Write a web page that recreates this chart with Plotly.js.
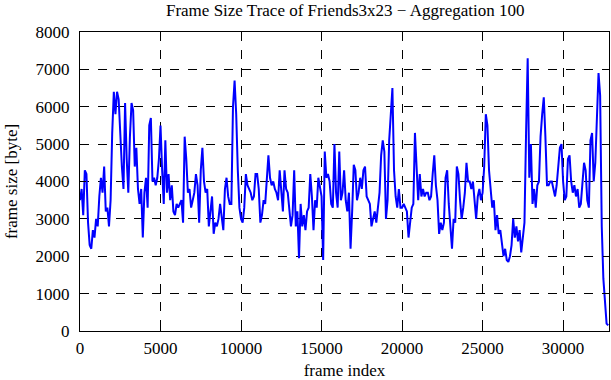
<!DOCTYPE html>
<html><head><meta charset="utf-8">
<script src="https://cdn.plot.ly/plotly-3.0.1.min.js"></script>
<style>html,body{margin:0;padding:0;background:#fff}#chart{width:611px;height:380px}</style>
</head><body><div id="chart"></div>
<script>
const chartTitle = "Frame Size Trace of Friends3x23 \u2212 Aggregation 100";
const xLabel = "frame index";
const yLabel = "frame size [byte]";
const aggregation = 100;
const xTicks = [0, 5000, 10000, 15000, 20000, 25000, 30000];
const yTicks = [0, 1000, 2000, 3000, 4000, 5000, 6000, 7000, 8000];
const frameSizes = [
 3500,3800,3100,4300,4200,2900,2300,2200,2700,2500,
 3000,2800,3600,4100,3700,4400,3200,3300,2800,3500,
 5300,6400,5800,6400,6200,5200,4400,3800,6100,4600,
 3700,5200,6100,5900,4400,4900,3800,3400,3800,2500,
 3700,4100,3300,5500,5700,4000,4100,3900,4100,4600,
 5500,4300,3400,5100,3700,4200,3500,3900,3200,3100,
 3400,3300,3400,3500,2900,5200,4600,3700,3800,3300,
 3500,3700,4200,3900,2900,4300,4900,4000,3700,3800,
 2800,3300,3600,2600,2900,2800,3000,3400,3100,2700,
 3800,4100,3600,3400,3400,6000,6700,5800,4300,3300,
 3000,2900,3300,4200,3900,3800,3700,3500,3600,4200,
 4200,3800,2900,3100,3500,3400,4200,4700,4100,3900,
 4000,3800,3700,3500,4300,3800,3200,4300,3800,3700,
 3200,2800,3100,4300,2800,3200,1950,3400,2800,3100,
 2700,3200,3300,4200,3600,2700,3500,3300,4100,3800,
 3600,1900,4800,4100,4200,4000,3400,3300,5000,3700,
 3300,4800,3500,3700,4300,3500,3200,3700,2200,3200,
 4450,4300,3500,3700,4100,3800,4300,4400,3600,3500,
 3400,2800,3000,3200,2900,3400,3700,4700,5100,4800,
 3000,3500,5100,5800,6500,4300,3600,3300,3800,3300,
 3300,3400,3300,3200,2500,3000,3300,3400,5300,4400,
 3500,4200,3600,3800,3600,3700,3700,3500,3600,4200,
 4700,3900,3500,2600,2900,2700,2900,4100,4300,3400,
 2900,2200,3000,2900,4400,4200,3500,3000,3300,3700,
 4500,4000,4000,3800,4000,3400,3000,3600,3800,3500,
 3700,4400,5800,5500,4300,3800,3300,3500,2700,3100,
 2600,2700,2300,2000,2200,1900,1850,2000,2300,3000,
 2500,2800,2400,2700,2100,2600,2900,5300,7300,4100,
 5000,3400,3800,3300,3900,4000,5200,5800,6250,5200,
 3900,3900,4000,4000,3800,3600,3900,4500,4900,5000,
 4000,3500,3600,4600,4700,4000,3700,3900,3600,3800,
 3300,3400,4100,4500,4300,3500,3300,5100,5300,4000,
 4500,5800,6900,6300,2800,1400,900,200,150
];
const frameIndex = frameSizes.map((_, i) => i * aggregation);

const font = {family: "Liberation Serif, Times New Roman, serif", size: 17, color: "#000"};
const axisCommon = {
  showline: true, linecolor: "#000", linewidth: 1, mirror: "allticks",
  ticks: "inside", ticklen: 6, tickcolor: "#000", tickwidth: 1,
  showgrid: true, gridcolor: "#000", gridwidth: 1, griddash: "dash",
  zeroline: false, tickfont: font
};
Plotly.newPlot("chart", [{
  x: frameIndex, y: frameSizes, type: "scatter", mode: "lines",
  line: {color: "#0000ff", width: 2}, hoverinfo: "skip"
}], {
  width: 611, height: 380,
  margin: {l: 80, r: 2, t: 32, b: 49},
  paper_bgcolor: "#fff", plot_bgcolor: "#fff",
  font: font, showlegend: false,
  title: {text: chartTitle, font: {family: font.family, size: 17, color: "#000"}, x: 0.565, xanchor: "center", y: 0.99, yanchor: "top"},
  xaxis: Object.assign({}, axisCommon, {range: [0, 32850], tickvals: xTicks, ticktext: xTicks.map(String),
    ticklabelstandoff: 2, title: {text: xLabel, font: font, standoff: 9}}),
  yaxis: Object.assign({}, axisCommon, {range: [0, 8000], tickvals: yTicks, ticktext: yTicks.map(String),
    ticklabelstandoff: 6, title: {text: yLabel, font: font, standoff: 13}})
}, {staticPlot: true});
</script></body></html>
